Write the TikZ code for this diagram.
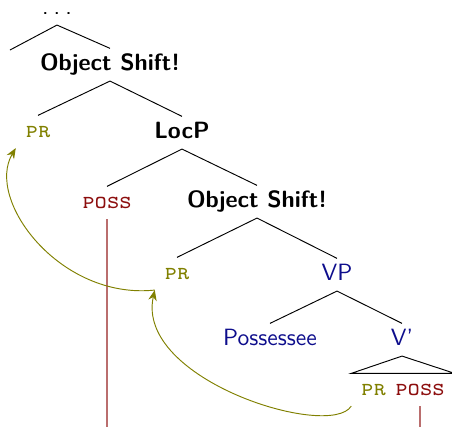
\documentclass[tikz,border=0pt]{standalone}
\usepackage{amsmath,amssymb}
\usepackage{tikz}
\usetikzlibrary{positioning}
\usetikzlibrary{arrows.meta}
\usepackage{xcolor}
\definecolor{prcol}{rgb}{0.5,0.5,0}
\definecolor{posscol}{rgb}{0.55,0.05,0.05}
\definecolor{catcol}{rgb}{0.05,0.05,0.55}

\begin{document}
\begin{tikzpicture}[x=0.425pt, y=-0.425pt, font=\sffamily,
  lab/.style = {anchor=base, inner sep=2pt, text height=7pt, text depth=2.5pt},
  pr/.style = {lab, inner xsep=4pt, text=prcol, font=\ttfamily\scshape},
  poss/.style = {lab, inner xsep=4pt, text=posscol, font=\ttfamily\scshape},
  cat/.style = {lab, text=catcol},
  move/.style = {draw=prcol, -{Stealth[length=4.5pt,width=3.6pt]}},
  trace/.style = {draw=posscol!60, line width=0.8pt}]
\useasboundingbox (0,0) rectangle (452,427);
\node[lab, text height=4pt] (dots) at (57,14) {.\hspace{2.2pt}.\hspace{2.2pt}.};
\coordinate (dotsl) at (10,50);
\node[lab] (os1) at (110,70) {\bfseries Object Shift!};
\node[pr] (pr1) at (38,137) {pr};
\node[lab] (locp) at (182,138) {\bfseries LocP};
\node[poss] (poss1) at (107,208) {poss};
\node[lab] (os2) at (257,207) {\bfseries Object Shift!};
\node[pr] (pr2) at (177,279) {pr};
\node[cat] (vp) at (337,280) {VP};
\node[cat] (possessee) at (270,345) {Possessee};
\node[cat] (vbar) at (402,345) {V'};
\node[pr] (pr3) at (373.5,395) {pr};
\node[poss] (poss3) at (420,395) {poss};
\coordinate (bottom) at (0,427);
% tree
\path (dots.south) edge (dotsl) edge (os1.north);
\path (os1.south) edge (pr1.north) edge (locp.north);
\path (locp.south) edge (poss1.north) edge (os2.north);
\path (os2.south) edge (pr2.north) edge (vp.north);
\path (vp.south) edge (possessee.north) edge (vbar.north);
\draw (vbar.south) -- (pr3.north west) -- (poss3.north east) -- cycle;
% traces and movement
\draw[trace] (poss1.south) -- (poss1.south |- bottom);
\draw[trace] (poss3.south) -- (poss3.south |- bottom);
\draw[move] (pr3.south west) .. controls (330,440) and (135,380) .. (pr2.south west);
\draw[move] (pr2.south west) .. controls (60,300) and (-15,200) .. (pr1.south west);
\end{tikzpicture}
\end{document}
